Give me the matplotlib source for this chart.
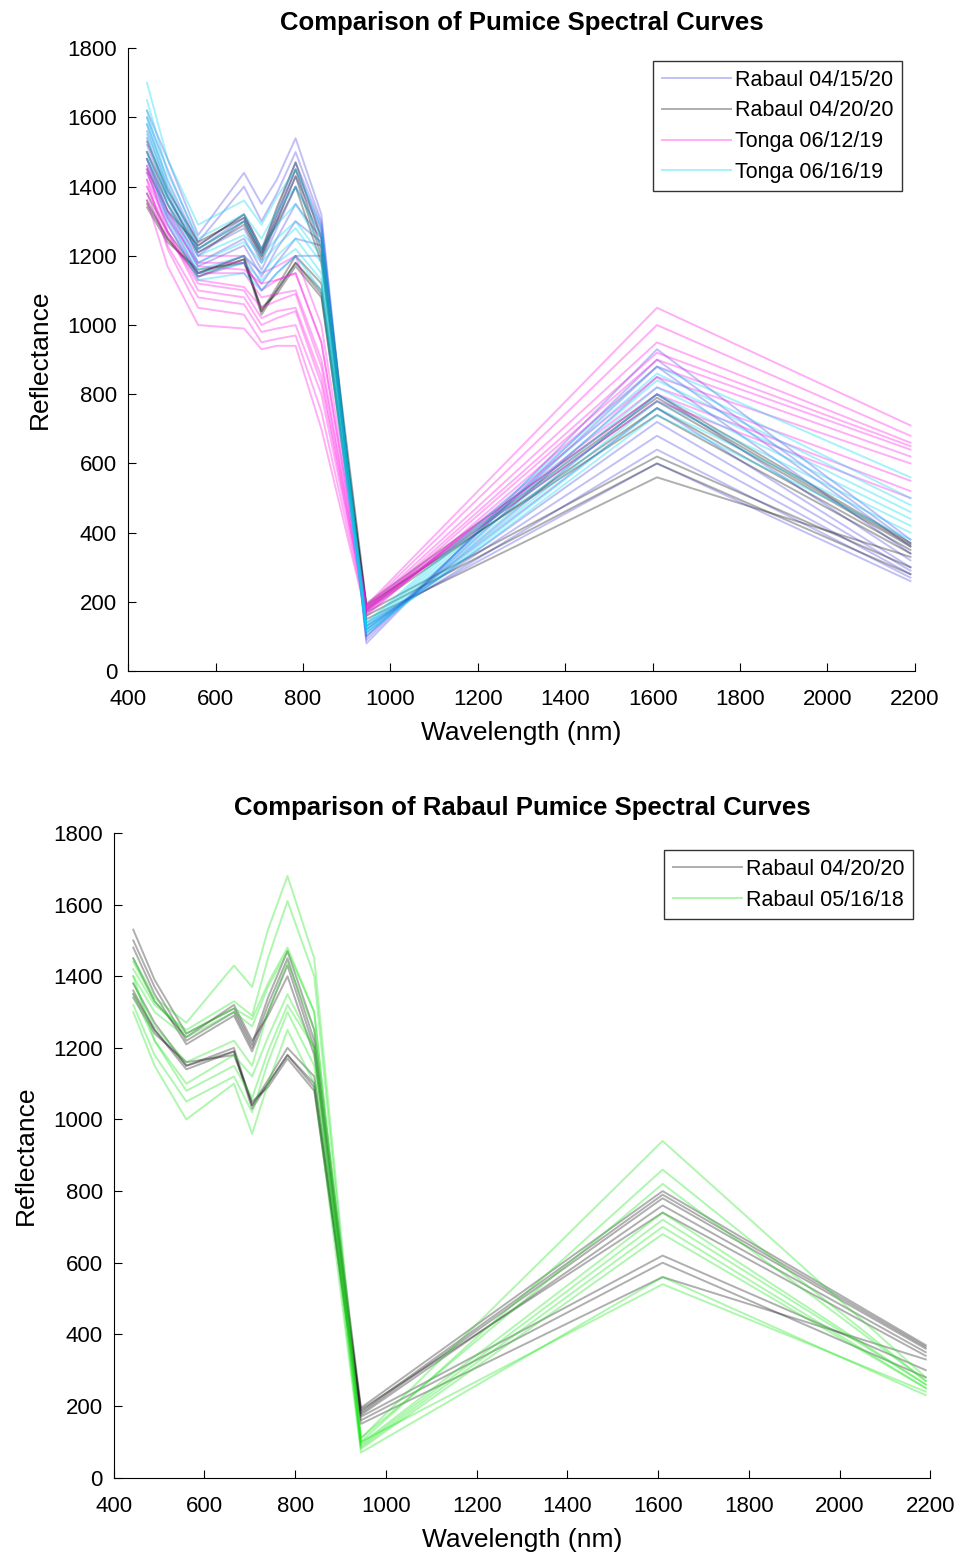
import matplotlib.pyplot as plt

plt.rcParams['font.family'] = ['Liberation Sans', 'DejaVu Sans']

# Sentinel-2 band centres (nm)
wavelength = [443, 490, 560, 665, 705, 740, 783, 842, 945, 1610, 2190]

# one row per pixel curve
rabaul_041520 = [
    [1620, 1480, 1260, 1440, 1350, 1420, 1540, 1320, 80, 930, 380],
    [1600, 1450, 1240, 1400, 1300, 1380, 1500, 1300, 90, 900, 370],
    [1580, 1420, 1230, 1320, 1220, 1330, 1470, 1290, 100, 880, 360],
    [1560, 1400, 1220, 1310, 1210, 1310, 1450, 1280, 100, 850, 340],
    [1540, 1380, 1200, 1300, 1200, 1300, 1430, 1270, 110, 800, 320],
    [1520, 1370, 1210, 1280, 1180, 1280, 1400, 1260, 120, 760, 300],
    [1500, 1350, 1180, 1250, 1160, 1250, 1350, 1250, 120, 720, 290],
    [1480, 1330, 1170, 1230, 1140, 1220, 1300, 1240, 130, 680, 280],
    [1460, 1310, 1150, 1200, 1120, 1180, 1250, 1230, 130, 640, 270],
    [1440, 1290, 1140, 1180, 1100, 1150, 1200, 1200, 140, 600, 260],
]

rabaul_042020 = [
    [1530, 1390, 1240, 1310, 1210, 1340, 1470, 1250, 195, 800, 370],
    [1500, 1370, 1220, 1300, 1200, 1320, 1450, 1220, 185, 790, 365],
    [1480, 1350, 1210, 1290, 1190, 1300, 1430, 1200, 180, 780, 360],
    [1450, 1330, 1230, 1320, 1220, 1290, 1400, 1180, 175, 760, 350],
    [1380, 1270, 1150, 1200, 1040, 1110, 1200, 1120, 190, 740, 340],
    [1350, 1250, 1140, 1190, 1030, 1100, 1180, 1100, 170, 620, 300],
    [1340, 1240, 1160, 1180, 1050, 1090, 1170, 1080, 160, 600, 280],
    [1360, 1250, 1150, 1190, 1040, 1100, 1180, 1090, 150, 560, 330],
]

tonga_061219 = [
    [1460, 1330, 1200, 1200, 1150, 1170, 1200, 1000, 190, 1050, 710],
    [1440, 1310, 1180, 1180, 1100, 1130, 1150, 950, 185, 1000, 680],
    [1420, 1290, 1150, 1150, 1080, 1090, 1100, 900, 180, 950, 660],
    [1400, 1260, 1120, 1100, 1020, 1040, 1050, 850, 175, 920, 650],
    [1380, 1230, 1080, 1060, 980, 990, 1000, 800, 170, 900, 640],
    [1360, 1170, 1000, 990, 930, 940, 940, 700, 160, 880, 620],
    [1420, 1220, 1050, 1030, 950, 960, 970, 750, 165, 850, 600],
    [1450, 1270, 1100, 1080, 1000, 1020, 1040, 830, 175, 820, 550],
    [1480, 1320, 1170, 1160, 1120, 1130, 1150, 950, 190, 800, 520],
    [1400, 1270, 1130, 1110, 1050, 1070, 1090, 880, 180, 780, 500],
]

tonga_061619 = [
    [1700, 1480, 1290, 1360, 1290, 1370, 1450, 1280, 140, 880, 560],
    [1650, 1440, 1250, 1320, 1250, 1330, 1400, 1250, 135, 860, 500],
    [1620, 1410, 1220, 1300, 1220, 1290, 1350, 1230, 130, 840, 480],
    [1600, 1390, 1200, 1260, 1200, 1250, 1300, 1200, 125, 820, 460],
    [1580, 1370, 1180, 1240, 1180, 1230, 1280, 1180, 120, 800, 440],
    [1550, 1350, 1160, 1200, 1150, 1200, 1250, 1150, 115, 780, 420],
    [1500, 1320, 1150, 1180, 1130, 1180, 1220, 1130, 110, 760, 400],
    [1480, 1300, 1130, 1150, 1100, 1150, 1200, 1100, 110, 740, 380],
]

rabaul_051618 = [
    [1450, 1340, 1270, 1430, 1370, 1530, 1680, 1450, 110, 940, 280],
    [1420, 1320, 1250, 1330, 1290, 1450, 1610, 1400, 100, 860, 270],
    [1400, 1300, 1230, 1300, 1260, 1370, 1470, 1300, 95, 740, 260],
    [1380, 1260, 1160, 1220, 1150, 1300, 1440, 1250, 90, 720, 260],
    [1350, 1220, 1100, 1180, 1120, 1230, 1350, 1200, 85, 700, 250],
    [1320, 1180, 1050, 1120, 1020, 1160, 1300, 1150, 80, 680, 250],
    [1300, 1150, 1000, 1100, 960, 1100, 1250, 1100, 70, 560, 230],
    [1400, 1220, 1080, 1150, 1060, 1190, 1320, 1200, 100, 540, 240],
    [1440, 1330, 1240, 1310, 1280, 1380, 1480, 1300, 110, 820, 270],
]

labels_top = ['Rabaul 04/15/20', 'Rabaul 04/20/20', 'Tonga 06/12/19', 'Tonga 06/16/19']
labels_bottom = ['Rabaul 04/20/20', 'Rabaul 05/16/18']

c_blue = (0.3, 0.3, 0.9)
c_grey = (0.1, 0.1, 0.1)
c_mag = (1.0, 0.1, 0.9)
c_cyan = (0.0, 0.85, 0.95)
c_green = (0.1, 0.9, 0.1)


def draw_group(ax, curves, color, label):
    for i, c in enumerate(curves):
        ax.plot(wavelength, c, color=color, alpha=0.35, lw=1.4,
                label=label if i == 0 else None)


def style(ax, title, ylabelpad):
    ax.set_xlim(400, 2200)
    ax.set_ylim(0, 1800)
    ax.set_xticks(range(400, 2201, 200))
    ax.set_yticks(range(0, 1801, 200))
    ax.spines['top'].set_visible(False)
    ax.spines['right'].set_visible(False)
    ax.tick_params(direction='in', labelsize=16, length=6)
    ax.tick_params(axis='x', pad=13)
    ax.tick_params(axis='y', pad=8)
    ax.set_xlabel('Wavelength (nm)', fontsize=19, labelpad=8)
    ax.set_ylabel('Reflectance', fontsize=19, labelpad=ylabelpad)
    ax.set_title(title, fontsize=18.5, fontweight='bold', pad=13)


def add_legend(ax, pad):
    leg = ax.legend(loc='upper right', fontsize=15.5, frameon=True, fancybox=False,
                    edgecolor='k', handlelength=3.2, handletextpad=0.2,
                    borderaxespad=pad, labelspacing=0.45, borderpad=0.4)
    leg.get_frame().set_linewidth(1.0)


fig = plt.figure(figsize=(9.64, 15.57), dpi=100)

ax1 = fig.add_axes([0.133, 0.569, 0.816, 0.400])
draw_group(ax1, rabaul_041520, c_blue, labels_top[0])
draw_group(ax1, rabaul_042020, c_grey, labels_top[1])
draw_group(ax1, tonga_061219, c_mag, labels_top[2])
draw_group(ax1, tonga_061619, c_cyan, labels_top[3])
style(ax1, 'Comparison of Pumice Spectral Curves', 11)
add_legend(ax1, 0.6)

ax2 = fig.add_axes([0.118, 0.051, 0.847, 0.414])
draw_group(ax2, rabaul_042020, c_grey, labels_bottom[0])
draw_group(ax2, rabaul_051618, c_green, labels_bottom[1])
style(ax2, 'Comparison of Rabaul Pumice Spectral Curves', 11)
add_legend(ax2, 0.8)

fig.savefig('out.png', dpi=100)
